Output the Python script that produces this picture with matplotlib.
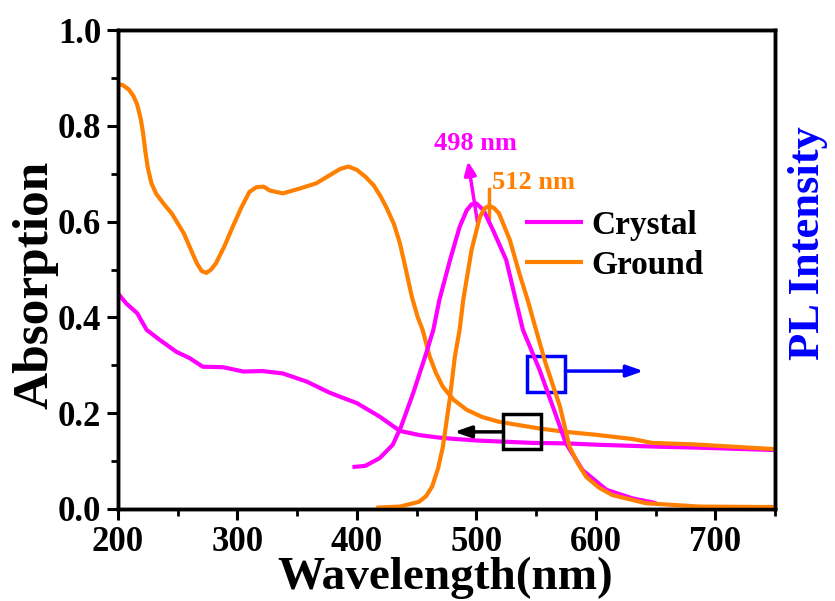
import matplotlib
matplotlib.use("Agg")
import matplotlib.pyplot as plt
from matplotlib.patches import Rectangle
from matplotlib.ticker import MultipleLocator

plt.rcParams["font.family"] = ["Liberation Serif", "DejaVu Serif"]
plt.rcParams["font.weight"] = "bold"

MAGENTA = "#FF00FF"
ORANGE = "#FF8000"
BLUE = "#0000FF"

# absorption spectra (left axis)
crystal_abs_nm = [200, 207, 216, 224, 235, 249, 260, 271, 288, 305, 321, 338, 358, 377,
                  400, 419, 436, 453, 469, 478, 500, 547, 575, 603, 653, 687, 750]
crystal_abs = [0.450, 0.429, 0.409, 0.374, 0.353, 0.328, 0.315, 0.297, 0.296, 0.287, 0.288,
               0.283, 0.266, 0.243, 0.221, 0.193, 0.163, 0.154, 0.149, 0.147, 0.143, 0.138,
               0.137, 0.134, 0.130, 0.128, 0.123]

ground_abs_nm = [200, 204, 209, 213, 216, 219, 221, 223, 225, 228, 232, 238, 245, 255, 266,
                 270, 274, 278, 282, 289, 296, 303, 310, 316, 322, 327, 338, 352, 366, 380,
                 386, 393, 400, 407, 414, 420, 425, 431, 436, 441, 446, 451, 455, 461, 466,
                 472, 481, 492, 505, 519, 553, 575, 600, 631, 647, 681, 750]
ground_abs = [0.887, 0.885, 0.876, 0.862, 0.845, 0.815, 0.785, 0.745, 0.712, 0.680, 0.658,
              0.638, 0.617, 0.576, 0.513, 0.497, 0.493, 0.500, 0.513, 0.548, 0.589, 0.628,
              0.662, 0.672, 0.673, 0.665, 0.659, 0.669, 0.680, 0.701, 0.710, 0.715, 0.708,
              0.694, 0.676, 0.652, 0.628, 0.595, 0.555, 0.500, 0.443, 0.400, 0.374, 0.318,
              0.285, 0.255, 0.228, 0.207, 0.192, 0.182, 0.168, 0.161, 0.155, 0.146, 0.138,
              0.135, 0.125]

# photoluminescence spectra (right axis, normalised to the same scale)
crystal_pl_nm = [398, 407, 419, 430, 437, 447, 458, 464, 469, 478, 486, 492, 496, 500, 506,
                 514, 525, 533, 539, 553, 564, 575, 589, 609, 631, 649]
crystal_pl = [0.088, 0.090, 0.106, 0.134, 0.172, 0.241, 0.325, 0.374, 0.436, 0.520, 0.589,
              0.624, 0.636, 0.638, 0.624, 0.582, 0.520, 0.436, 0.374, 0.290, 0.214, 0.137,
              0.081, 0.040, 0.022, 0.013]

ground_pl_nm = [418, 436, 452, 458, 463, 468, 472, 478, 482, 486, 489, 496, 503, 507, 511,
                515, 519, 528, 536, 543, 550, 558, 570, 578, 585, 592, 603, 614, 642, 687, 750]
ground_pl = [0.003, 0.005, 0.015, 0.027, 0.047, 0.085, 0.130, 0.234, 0.318, 0.374, 0.436,
             0.541, 0.610, 0.628, 0.633, 0.628, 0.617, 0.562, 0.492, 0.436, 0.374, 0.304,
             0.214, 0.130, 0.095, 0.067, 0.044, 0.029, 0.012, 0.005, 0.004]

peak_labels = ["498 nm", "512 nm"]

fig = plt.figure(figsize=(8.35, 6.01), dpi=100)
ax = fig.add_axes([0.1413, 0.1531, 0.7868, 0.7969])

lw = 3.0
ax.plot(crystal_abs_nm, crystal_abs, color=MAGENTA, lw=lw, label="Crystal",
        solid_joinstyle="round", solid_capstyle="butt")
ax.plot(ground_abs_nm, ground_abs, color=ORANGE, lw=lw, label="Ground",
        solid_joinstyle="round", solid_capstyle="butt")

ax2 = ax.twinx()
ax2.plot(crystal_pl_nm, crystal_pl, color=MAGENTA, lw=lw, solid_joinstyle="round")
ax2.plot(ground_pl_nm, ground_pl, color=ORANGE, lw=lw, solid_joinstyle="round")
ax2.set_ylim(0, 1.0)
ax2.set_yticks([])
ax2.set_ylabel("PL Intensity", color=BLUE, fontsize=32, fontweight="bold", va="center")
ax2.yaxis.set_label_coords(1.050, 0.556)

ax.set_xlim(200, 750)
ax.set_ylim(0, 1.0)
ax.xaxis.set_major_locator(MultipleLocator(100))
ax.xaxis.set_minor_locator(MultipleLocator(50))
ax.yaxis.set_major_locator(MultipleLocator(0.2))
ax.yaxis.set_minor_locator(MultipleLocator(0.1))
ax.yaxis.set_major_formatter(plt.FormatStrFormatter("%.1f"))
ax.tick_params(which="major", direction="out", length=8, width=2.2, labelsize=25, pad=4)
ax.tick_params(which="minor", direction="out", length=5, width=2.0)
ax.tick_params(top=False, right=False, which="both")
for lab in ax.get_xticklabels() + ax.get_yticklabels():
    lab.set_fontweight("bold")
for ax_ in (ax, ax2):
    for sp in ax_.spines.values():
        sp.set_linewidth(2.5)

ax.set_xlabel("Wavelength(nm)", fontsize=34, fontweight="bold", va="center")
ax.xaxis.set_label_coords(0.498, -0.143)
ax.set_ylabel("Absorption", fontsize=37, fontweight="bold", va="center")
ax.yaxis.set_label_coords(-0.126, 0.468)

leg = ax.legend(loc="upper left", bbox_to_anchor=(0.619, 0.625), frameon=False,
                fontsize=24, handlelength=1.75, handletextpad=0.25, labelspacing=0.28,
                borderpad=0, borderaxespad=0)
for t in leg.get_texts():
    t.set_fontweight("bold")

# peak annotations
ax.annotate("", xy=(493, 0.726), xytext=(501, 0.598),
            arrowprops=dict(arrowstyle="-|>,head_length=0.8,head_width=0.35",
                            color=MAGENTA, lw=2.5, shrinkA=0, shrinkB=0))
ax.text(499, 0.764, peak_labels[0], color=MAGENTA, fontsize=19, fontweight="bold",
        ha="center", va="center")
ax.plot([511, 511], [0.607, 0.668], color=ORANGE, lw=2.5)
ax.text(548, 0.681, peak_labels[1], color=ORANGE, fontsize=19, fontweight="bold",
        ha="center", va="center")

# axis indicator boxes
ax.add_patch(Rectangle((542.8, 0.244), 31.8, 0.075, fill=False, ec=BLUE, lw=2.5, zorder=5))
ax.annotate("", xy=(640, 0.288), xytext=(574.6, 0.288),
            arrowprops=dict(arrowstyle="-|>,head_length=1.0,head_width=0.35",
                            color=BLUE, lw=2.5, shrinkA=0, shrinkB=0))
ax.add_patch(Rectangle((522.7, 0.125), 31.8, 0.073, fill=False, ec="black", lw=2.5, zorder=5))
ax.annotate("", xy=(481.5, 0.161), xytext=(522.7, 0.161),
            arrowprops=dict(arrowstyle="-|>,head_length=1.0,head_width=0.35",
                            color="black", lw=2.5, shrinkA=0, shrinkB=0))

fig.savefig("out.png", dpi=100)
